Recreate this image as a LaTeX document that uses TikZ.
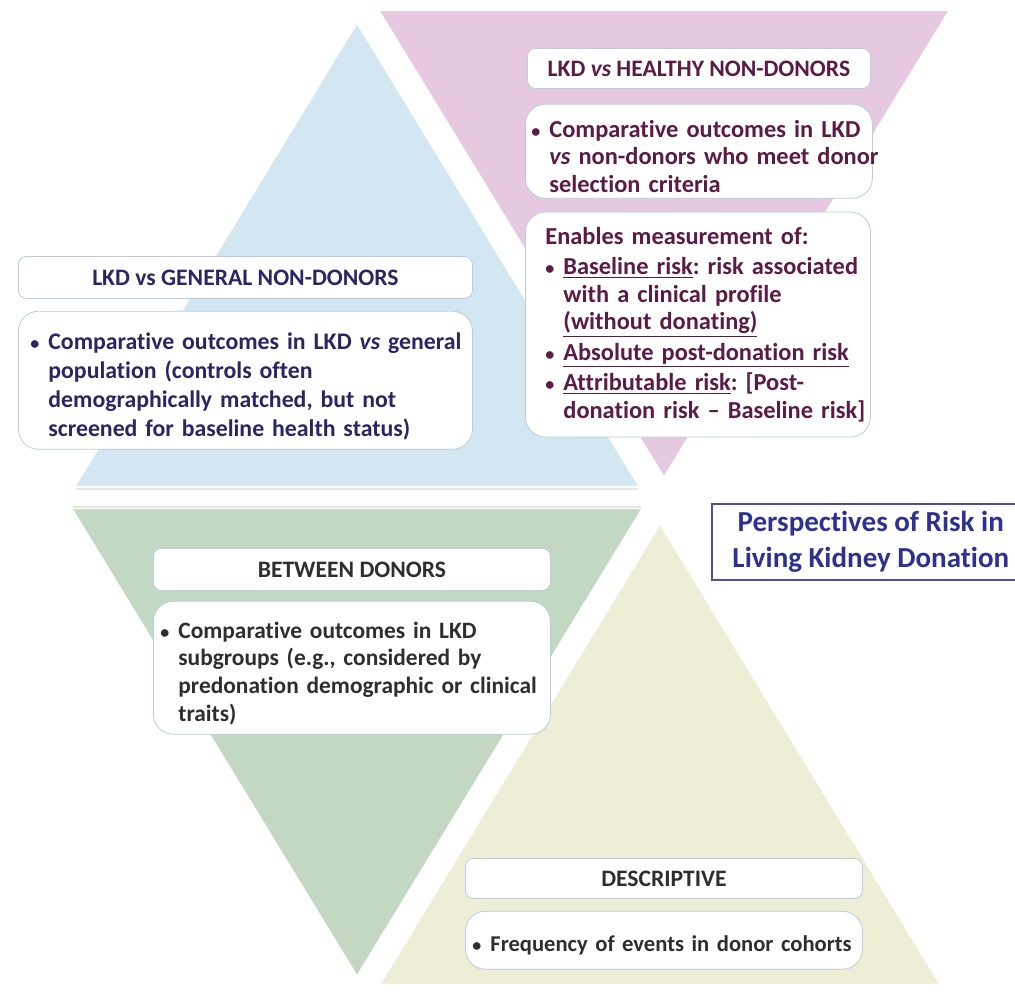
\documentclass[tikz,border=0pt]{standalone}
\usepackage{fontspec}
\setmainfont{Carlito}[Ligatures=NoCommon]
\usetikzlibrary{positioning}
\definecolor{BlueTri}{HTML}{D2E7F1}
\definecolor{PinkTri}{HTML}{E6C9E0}
\definecolor{GreenTri}{HTML}{C3D8C3}
\definecolor{YellowTri}{HTML}{EEEED6}
\definecolor{BoxBorder}{HTML}{B7CDE0}
\definecolor{NavyText}{HTML}{2B2563}
\definecolor{PlumText}{HTML}{5B1B45}
\definecolor{GrayText}{HTML}{2E2E2E}
\definecolor{TitleBlue}{HTML}{2E3192}
\frenchspacing
\newcommand{\bitem}[1]{\par\noindent\makebox[9pt][l]{\small\textbullet}\parbox[t]{\dimexpr\hsize+40pt\relax}{\raggedright #1}\par}

\begin{document}
\begin{tikzpicture}[
        x=0.5pt, y=-0.5pt,
        node distance=6pt,
        tri/.style={draw=white, line width=1.2pt},
        triedge/.style={draw=black!10, line width=1.2pt},
        hdr/.style={rectangle, draw=BoxBorder, fill=white, rounded corners=4pt, minimum height=21pt, anchor=north west, align=center, font=\fontsize{11.8}{14}\selectfont\bfseries},
        bodybox/.style={rectangle, draw=BoxBorder, fill=white, rounded corners=10pt, anchor=north west, align=left, inner ysep=4pt, font=\fontsize{11.9}{14.5}\selectfont\bfseries},
        titlebox/.style={rectangle, draw=TitleBlue!85, line width=0.8pt, fill=white, anchor=north west, align=center, text=TitleBlue, font=\fontsize{14.5}{18}\selectfont\bfseries}
      ]
        \useasboundingbox (0,0) rectangle (1015,992);
        \fill[white] (0,0) rectangle (1015,992);

        % Triangles
        \filldraw[tri, fill=BlueTri] (357,22) -- (640,487) -- (74,487) -- cycle;
        \filldraw[tri, fill=PinkTri] (378,10) -- (950,10) -- (664,478) -- cycle;
        \filldraw[tri, fill=GreenTri] (71,508) -- (643,508) -- (357,977) -- cycle;
        \filldraw[tri, fill=YellowTri] (660,523) -- (941,985) -- (379,985) -- cycle;
        \draw[triedge] (76,489) -- (638,489);
        \draw[triedge] (73,507) -- (641,507);

        % LKD vs general non-donors
        \node[hdr, minimum width=227pt, text=NavyText] (hdrGeneral) at (18,256) {LKD vs GENERAL NON-DONORS};
        \node[bodybox, below=6pt of hdrGeneral.south west, anchor=north west, minimum width=227pt, minimum height=69pt, inner xsep=6pt, text width=215pt, text=NavyText] (bodyGeneral)
          {\bitem{Comparative outcomes in LKD \textit{vs} general\\ population (controls often\\ demographically matched, but not\\ screened for baseline health status)}};

        % LKD vs healthy non-donors
        \node[hdr, minimum width=171.5pt, minimum height=20pt, text=PlumText] (hdrHealthy) at (527,48) {LKD \textit{vs} HEALTHY NON-DONORS};
        \node[bodybox, below=7.5pt of hdrHealthy.south west, anchor=north west, xshift=-1pt, minimum width=173.5pt, minimum height=47pt, inner xsep=3pt, inner ysep=2.5pt, text width=167.5pt, text=PlumText, font=\fontsize{12.2}{13.8}\selectfont\bfseries] (bodyHealthy)
          {\bitem{Comparative outcomes in LKD\\ \textit{vs} non-donors who meet donor\\ selection criteria}};
        \node[bodybox, below=6.5pt of bodyHealthy.south west, anchor=north west, minimum width=172.5pt, minimum height=112.5pt, inner xsep=10pt, text width=152.5pt, text=PlumText, font=\fontsize{12.2}{13.8}\selectfont\bfseries] (bodyMeasure)
          {\setlength{\parskip}{1.5pt}Enables measurement of:
           \bitem{\underline{Baseline risk}: risk associated\\ with a clinical profile\\ \underline{(without donating)}}
           \bitem{\underline{Absolute post-donation risk}}
           \bitem{\underline{Attributable risk}: [Post-\\ donation risk -- Baseline risk]}};

        % Between donors
        \node[hdr, minimum width=198.5pt, text=GrayText] (hdrBetween) at (153,548) {BETWEEN DONORS};
        \node[bodybox, below=5pt of hdrBetween.south west, anchor=north west, minimum width=198.5pt, minimum height=66.5pt, inner xsep=3.5pt, text width=191.5pt, text=GrayText, font=\fontsize{11.7}{13.8}\selectfont\bfseries] (bodyBetween)
          {\bitem{Comparative outcomes in LKD\\ subgroups (e.g., considered by\\ predonation demographic or clinical\\ traits)}};

        % Descriptive
        \node[hdr, minimum width=198.5pt, minimum height=20pt, text=GrayText] (hdrDescriptive) at (465,858) {DESCRIPTIVE};
        \node[bodybox, below=6pt of hdrDescriptive.south west, anchor=north west, minimum width=198.5pt, minimum height=29pt, inner xsep=3.5pt, text width=191.5pt, text=GrayText, font=\fontsize{11.3}{13.5}\selectfont\bfseries] (bodyDescriptive)
          {\bitem{Frequency of events in donor cohorts}};

        % Title
        \node[titlebox, minimum width=159pt, minimum height=38pt] (title) at (711,503) {Perspectives of Risk in\\ Living Kidney Donation};
      \end{tikzpicture}
\end{document}
